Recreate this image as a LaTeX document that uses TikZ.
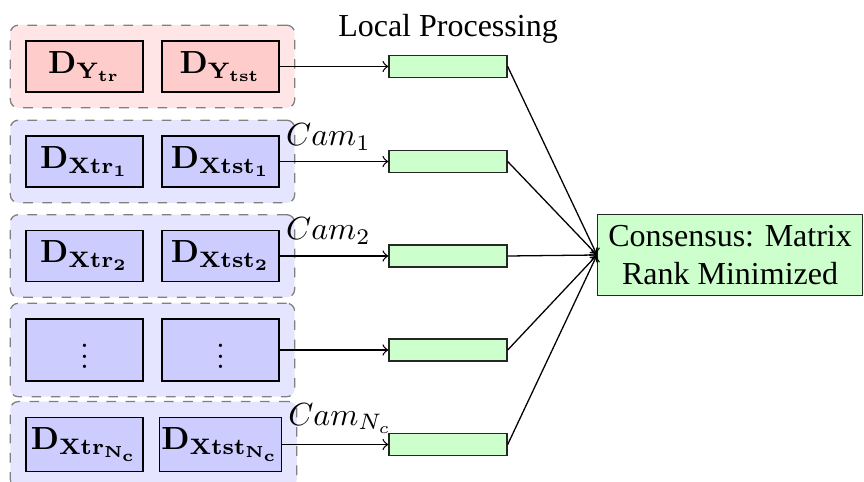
\documentclass[tikz,border=0pt]{standalone}
\usepackage[no-math]{fontspec}
\setmainfont{Liberation Serif}
\newfontfamily\labelfont{Liberation Serif}
\usetikzlibrary{fit,backgrounds}

% three stacked dots, a little tighter than \vdots
\newcommand{\stackdots}{\vbox{\baselineskip=3.4pt\lineskiplimit=0pt\hbox{$.$}\hbox{$.$}\hbox{$.$}}}

\begin{document}
\begin{tikzpicture}[x=0.3125pt,y=-0.3125pt,
  datbox/.style={draw=black, minimum width=36.56pt, minimum height=15.94pt, inner xsep=0.5pt, inner ysep=3.33pt},
  ybox/.style={datbox, fill=red!20},
  xbox/.style={datbox, fill=blue!20},
  dotbox/.style={xbox, inner ysep=0pt, text height=15.6pt, text depth=3.8pt},
  grp/.style={draw=gray, dashed, rounded corners=2.5pt, inner sep=4.7pt},
  ygrp/.style={grp, fill=red!10},
  xgrp/.style={grp, fill=blue!10},
  proc/.style={draw=black!85, fill=green!20, minimum width=36.9pt, minimum height=6.9pt, inner sep=0pt},
  cons/.style={draw=black!85, fill=green!20, align=center, inner sep=3.33pt, font=\labelfont},
  cam/.style={anchor=south west, xshift=-1.5pt},
  link/.style={->}
]
\useasboundingbox (0,0) rectangle (864,482);

% data blocks: training / test for the labels and for each camera
\node[ybox] (ytr)  at (84.5,66.5) {$\mathbf{D_{Y_{tr}}}$};
\node[ybox] (ytst) at (220.5,66.5) {$\mathbf{D_{Y_{tst}}}$};

\node[xbox] (xtr1)  at (84.5,161.5) {$\mathbf{D_{Xtr_1}}$};
\node[xbox] (xtst1) at (220.5,161.5) {$\mathbf{D_{Xtst_1}}$};

\node[xbox] (xtr2)  at (84.5,256) {$\mathbf{D_{Xtr_2}}$};
\node[xbox] (xtst2) at (220.5,256) {$\mathbf{D_{Xtst_2}}$};

\node[dotbox] (xtrd)  at (84.5,350) {\stackdots};
\node[dotbox] (xtstd) at (220.5,350) {\stackdots};

\node[xbox] (xtrn)  at (84.5,444.5) {$\mathbf{D_{Xtr_{N_c}}}$};
\node[xbox] (xtstn) at (220.5,444.5) {$\mathbf{D_{Xtst_{N_c}}}$};

% dashed groups behind each pair
\begin{pgfonlayer}{background}
  \node[ygrp, fit=(ytr)(ytst)] (gy) {};
  \node[xgrp, fit=(xtr1)(xtst1)] (g1) {};
  \node[xgrp, fit=(xtr2)(xtst2)] (g2) {};
  \node[xgrp, fit=(xtrd)(xtstd)] (gd) {};
  \node[xgrp, fit=(xtrn)(xtstn)] (gn) {};
\end{pgfonlayer}

% local processing stages
\node[proc, label={[font=\labelfont]above:Local Processing}] (py) at (448,66.5) {};
\node[proc] (p1) at (448,161.5) {};
\node[proc] (p2) at (448,256) {};
\node[proc] (pd) at (448,350) {};
\node[proc] (pn) at (448,444.5) {};

% consensus stage
\node[cons, anchor=west] (cs) at (597,255) {Consensus: Matrix\\Rank Minimized};

% data to local processing
\draw[link] (ytst.east) -- (py.west);
\draw[link] (xtst1.east) node[cam] {$Cam_1$} -- (p1.west);
\draw[link] (xtst2.east) node[cam] {$Cam_2$} -- (p2.west);
\draw[link] (xtstd.east) -- (pd.west);
\draw[link] (xtstn.east) node[cam] {$Cam_{N_c}$} -- (pn.west);

% local processing to consensus
\foreach \p in {py,p1,p2,pd,pn}
  \draw[link] (\p.east) -- (cs.west);
\end{tikzpicture}
\end{document}
